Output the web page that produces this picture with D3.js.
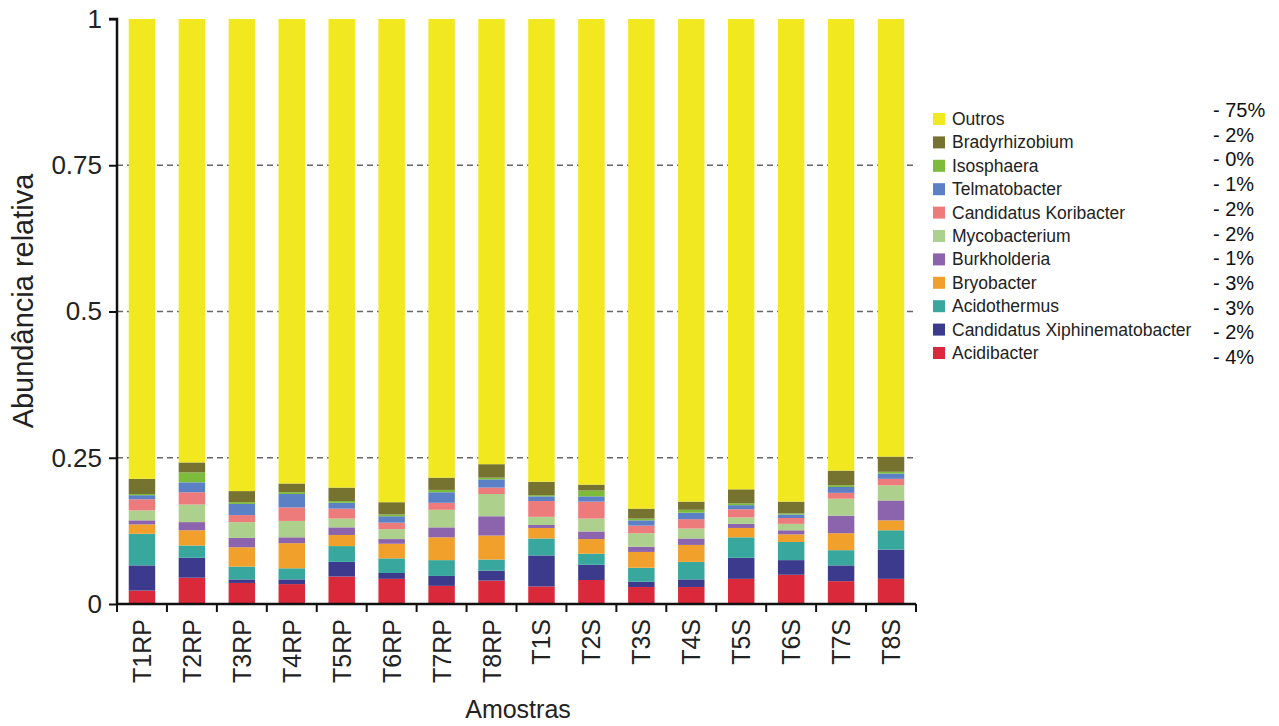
<!DOCTYPE html>
<html><head><meta charset="utf-8">
<script src="https://cdn.jsdelivr.net/npm/d3@7"></script>
<style>body{margin:0;background:#fff}svg{display:block;font-family:"Liberation Sans",Arial,sans-serif}</style>
</head><body><svg id="c" width="1279" height="726"></svg>
<script>
const samples = ["T1RP","T2RP","T3RP","T4RP","T5RP","T6RP","T7RP","T8RP","T1S","T2S","T3S","T4S","T5S","T6S","T7S","T8S"];
const acidibacter      = [.023,.045,.036,.034,.047,.043,.031,.040,.030,.041,.029,.029,.043,.050,.039,.043];
const xiphinematobacter= [.043,.034,.006,.008,.025,.010,.017,.017,.053,.026,.009,.013,.036,.025,.027,.050];
const acidothermus     = [.054,.021,.022,.019,.027,.025,.027,.019,.029,.019,.024,.030,.035,.031,.026,.033];
const bryobacter       = [.016,.026,.033,.043,.019,.025,.039,.041,.018,.025,.027,.029,.016,.013,.029,.017];
const burkholderia     = [.007,.014,.016,.010,.013,.008,.017,.033,.005,.013,.009,.011,.007,.007,.030,.034];
const mycobacterium    = [.017,.030,.027,.028,.015,.017,.030,.038,.014,.022,.023,.017,.011,.011,.029,.026];
const koribacter       = [.019,.021,.012,.023,.017,.011,.012,.011,.027,.029,.013,.016,.014,.010,.010,.011];
const telmatobacter    = [.007,.017,.019,.023,.010,.011,.018,.014,.008,.009,.009,.011,.007,.006,.010,.009];
const isosphaera       = [.002,.017,.003,.003,.003,.003,.004,.003,.002,.010,.003,.005,.003,.002,.003,.003];
const bradyrhizobium   = [.026,.017,.019,.015,.023,.021,.021,.023,.023,.010,.017,.014,.024,.020,.025,.026];
const outros           = [.786,.758,.807,.794,.801,.826,.784,.761,.791,.796,.837,.825,.804,.825,.772,.748];
const seriesNames = ["Acidibacter","Candidatus Xiphinematobacter","Acidothermus","Bryobacter","Burkholderia","Mycobacterium","Candidatus Koribacter","Telmatobacter","Isosphaera","Bradyrhizobium","Outros"];
const seriesValues = [acidibacter,xiphinematobacter,acidothermus,bryobacter,burkholderia,mycobacterium,koribacter,telmatobacter,isosphaera,bradyrhizobium,outros];
const seriesColors = ["#d9293a","#3b3a8c","#38a79e","#f2a02c","#8c63ad","#add18c","#ee7b7b","#5b80c5","#7dbb3a","#767330","#f1e81f"];
const legendPct = ["- 4%","- 2%","- 3%","- 3%","- 1%","- 2%","- 2%","- 1%","- 0%","- 2%","- 75%"];
const yTicks = [0,0.25,0.5,0.75,1];
const yTickLabels = ["0","0.25","0.5","0.75","1"];

const svg = d3.select("#c");
const x = d3.scaleBand().domain(samples).range([117,916]).paddingInner(0.47).paddingOuter(0.235);
const y = d3.scaleLinear().domain([0,1]).range([604,19]);

const rows = samples.map((s,i)=>{const r={sample:s}; seriesNames.forEach((n,k)=>r[n]=seriesValues[k][i]); return r;});
const stack = d3.stack().keys(seriesNames)(rows);

// grid
svg.append("g").selectAll("line").data([0.25,0.5,0.75]).join("line")
  .attr("x1",117).attr("x2",916).attr("y1",d=>y(d)).attr("y2",d=>y(d))
  .attr("stroke","#666").attr("stroke-width",1.3).attr("stroke-dasharray","6,4");

// bars
svg.append("g").selectAll("g").data(stack).join("g")
  .attr("fill",(d,i)=>seriesColors[i])
  .selectAll("rect").data(d=>d).join("rect")
  .attr("x",d=>x(d.data.sample)).attr("width",x.bandwidth())
  .attr("y",d=>y(Math.min(1,d[1]))).attr("height",d=>y(d[0])-y(Math.min(1,d[1])));

// y axis
const ya = svg.append("g").attr("transform","translate(117,0)")
  .call(d3.axisLeft(y).tickValues(yTicks).tickFormat((d,i)=>yTickLabels[i]).tickSize(8).tickPadding(7));
ya.select(".domain").attr("stroke","#111").attr("stroke-width",2.5).attr("d","M-8,"+y(1)+"H0V"+(y(0)+1));
ya.selectAll(".tick line").attr("stroke","#111").attr("stroke-width",2);
ya.selectAll(".tick text").attr("font-size",26).attr("fill","#222").attr("font-family","Liberation Sans, Arial, sans-serif");

// x axis
const xa = svg.append("g").attr("transform","translate(0,604)");
xa.append("line").attr("x1",116).attr("x2",916).attr("stroke","#111").attr("stroke-width",2.5);
const bounds = samples.map(s=>x(s)-x.step()*x.paddingInner()/2).concat([916]);
xa.selectAll(".tk").data(bounds).join("line").attr("class","tk")
  .attr("x1",d=>d).attr("x2",d=>d).attr("y1",0).attr("y2",8).attr("stroke","#111").attr("stroke-width",2);
xa.selectAll(".lb").data(samples).join("text").attr("class","lb")
  .attr("transform",d=>`translate(${x(d)+x.bandwidth()/2+9},15) rotate(-90)`)
  .attr("text-anchor","end").attr("font-size",25).attr("fill","#222").text(d=>d);

// axis titles
svg.append("text").attr("x",518).attr("y",718).attr("text-anchor","middle").attr("font-size",25).attr("fill","#222").text("Amostras");
svg.append("text").attr("transform","translate(33,301) rotate(-90)").attr("text-anchor","middle").attr("font-size",29).attr("fill","#222").text("Abundância relativa");

// legend
const order = d3.range(seriesNames.length).reverse();
const lg = svg.append("g").selectAll("g").data(order).join("g")
  .attr("transform",(d,i)=>`translate(933,${119+i*23.4})`);
lg.append("rect").attr("x",0).attr("y",-6).attr("width",12).attr("height",12).attr("fill",d=>seriesColors[d]);
lg.append("text").attr("x",19).attr("y",6).attr("font-size",17.5).attr("fill","#222").text(d=>seriesNames[d]);
svg.append("g").selectAll("text").data(order).join("text")
  .attr("x",1213).attr("y",(d,i)=>117+i*24.7).attr("font-size",20).attr("fill","#111").text(d=>legendPct[d]);
</script></body></html>
